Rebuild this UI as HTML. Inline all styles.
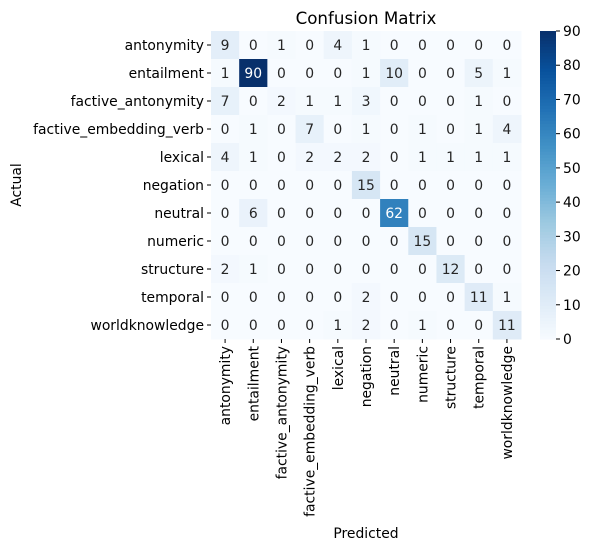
<!DOCTYPE html>
<html><head><meta charset="utf-8"><style>
body{margin:0;background:#fff;font-family:"Liberation Sans","DejaVu Sans",sans-serif;}
svg text{font-family:"DejaVu Sans","Liberation Sans",sans-serif;}
</style></head><body>
<svg id="c" width="592" height="550" xmlns="http://www.w3.org/2000/svg"></svg>
<script>
const labels=["antonymity","entailment","factive_antonymity","factive_embedding_verb","lexical","negation","neutral","numeric","structure","temporal","worldknowledge"];
const matrix=[
[9,0,1,0,4,1,0,0,0,0,0],
[1,90,0,0,0,1,10,0,0,5,1],
[7,0,2,1,1,3,0,0,0,1,0],
[0,1,0,7,0,1,0,1,0,1,4],
[4,1,0,2,2,2,0,1,1,1,1],
[0,0,0,0,0,15,0,0,0,0,0],
[0,6,0,0,0,0,62,0,0,0,0],
[0,0,0,0,0,0,0,15,0,0,0],
[2,1,0,0,0,0,0,0,12,0,0],
[0,0,0,0,0,2,0,0,0,11,1],
[0,0,0,0,1,2,0,1,0,0,11]];
const cbTicks=[0,10,20,30,40,50,60,70,80,90];
const vmax=90;
const blues=["#f7fbff","#deebf7","#c6dbef","#9ecae1","#6baed6","#4292c6","#2171b5","#08519c","#08306b"];
function hx(h){return [1,3,5].map(i=>parseInt(h.substr(i,2),16));}
function cmap(t){t=Math.max(0,Math.min(1,t));const p=t*(blues.length-1);const i=Math.min(Math.floor(p),blues.length-2);const f=p-i;const a=hx(blues[i]),b=hx(blues[i+1]);return "rgb("+a.map((v,k)=>Math.round(v+(b[k]-v)*f)).join(",")+")";}
const svg=document.getElementById('c');const NS="http://www.w3.org/2000/svg";
function el(t,a,txt){const e=document.createElementNS(NS,t);for(const k in a)e.setAttribute(k,a[k]);if(txt!==undefined)e.textContent=txt;svg.appendChild(e);return e;}
const L=211,T=31,W=310,H=308,n=labels.length,cw=W/n,ch=H/n,FS=13.9;
const x=j=>L+j*cw, y=i=>T+i*ch;
matrix.forEach((row,i)=>row.forEach((v,j)=>{
 const r=el('rect',{x:x(j),y:y(i),width:cw+0.5,height:ch+0.5,fill:cmap(v/vmax)});
 
 
 const t=el('text',{x:x(j)+cw/2,y:y(i)+ch/2+5,'text-anchor':'middle','font-size':FS,fill:v>45?'#fff':'#262626'},v);
 
 
}));
labels.forEach((lab,i)=>{
 el('line',{x1:L-4,x2:L,y1:y(i)+ch/2,y2:y(i)+ch/2,stroke:'#000'});
 const t=el('text',{x:L-7,y:y(i)+ch/2+5,'text-anchor':'end','font-size':FS,fill:'#000'},lab);
 
 
 const cx=x(i)+cw/2;
 el('line',{x1:cx,x2:cx,y1:T+H,y2:T+H+4,stroke:'#000'});
 const u=el('text',{x:cx+5,y:T+H+7,'text-anchor':'end','font-size':FS,fill:'#000',transform:`rotate(-90 ${cx+5} ${T+H+7})`},lab);
 
 
});
const ttl=el('text',{x:L+W/2,y:24,'text-anchor':'middle','font-size':16.7,fill:'#000'},'Confusion Matrix');

const xt=el('text',{x:L+W/2,y:538,'text-anchor':'middle','font-size':FS,fill:'#000'},'Predicted');

const yt=el('text',{x:21,y:T+H/2,'text-anchor':'middle','font-size':FS,fill:'#000',transform:`rotate(-90 21 ${T+H/2})`},'Actual');

const CL=540,CW=16,steps=100;
for(let k=0;k<steps;k++){const r=el('rect',{x:CL,y:T+H-(k+1)*H/steps,width:CW,height:H/steps+0.6,fill:cmap((k+0.5)/steps)});}
cbTicks.forEach(v=>{const yy=T+H-v/vmax*H;el('line',{x1:CL+CW,x2:CL+CW+4,y1:yy,y2:yy,stroke:'#000'});
 const t=el('text',{x:CL+CW+7,y:yy+5,'font-size':FS,fill:'#000'},v);});
</script>
</body></html>
